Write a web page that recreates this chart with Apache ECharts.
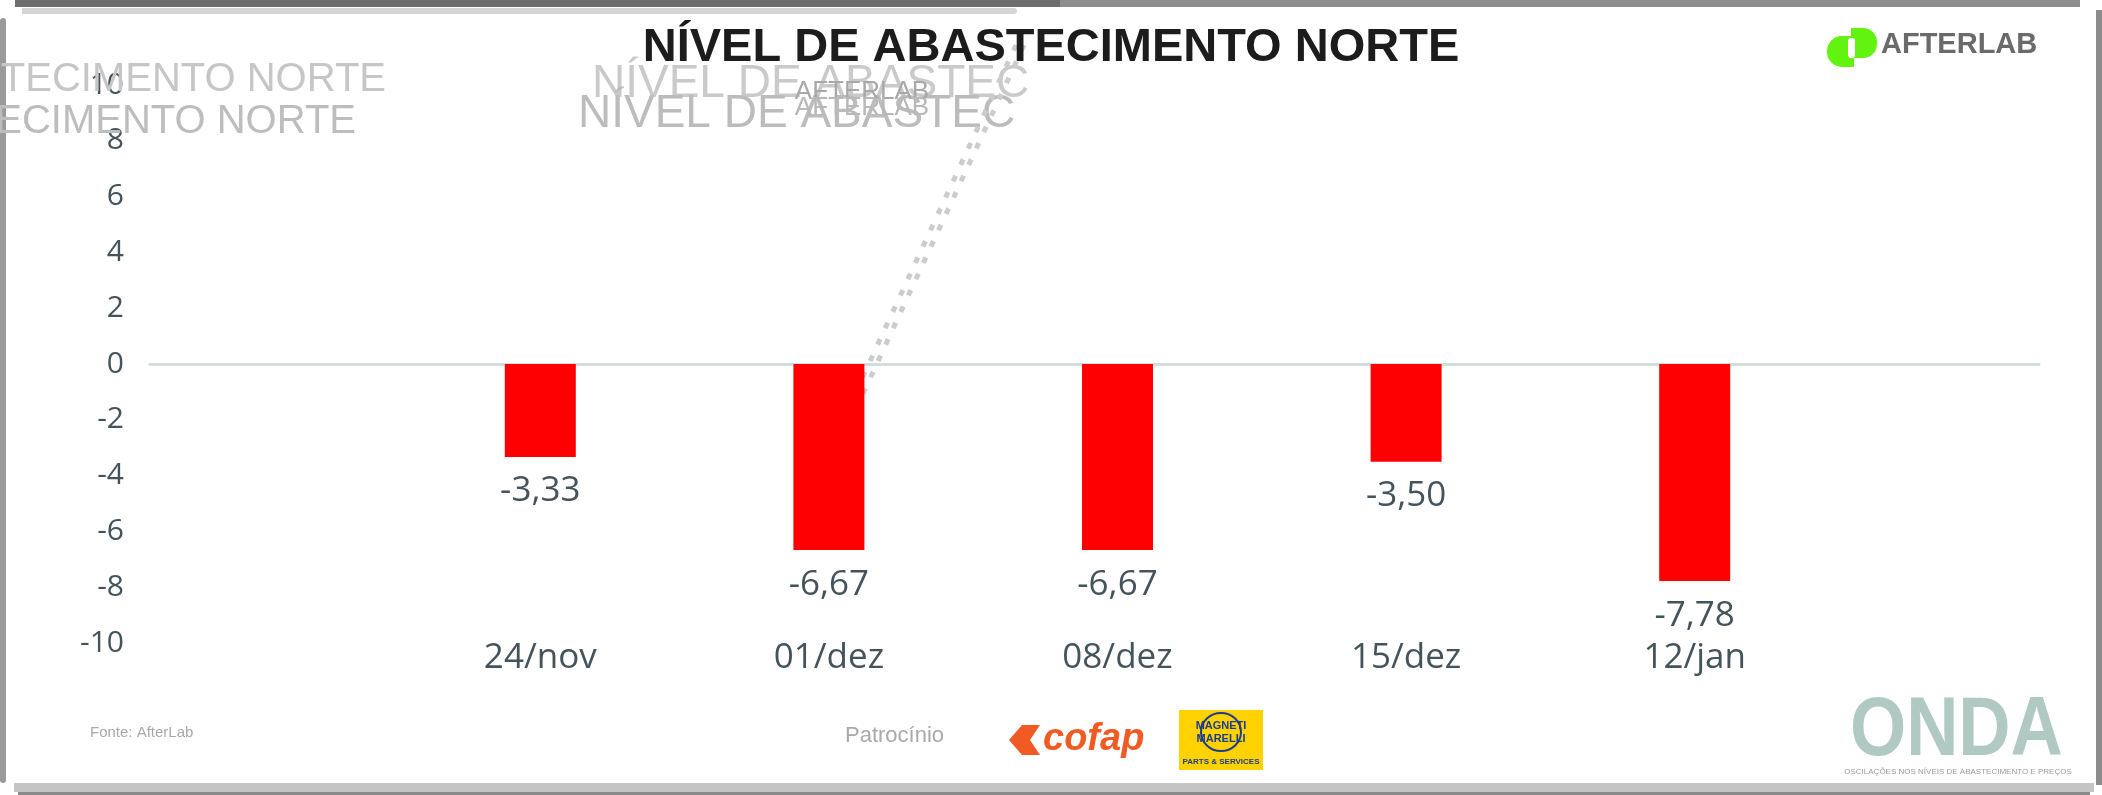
<!DOCTYPE html>
<html>
<head>
<meta charset="utf-8">
<script src="https://cdn.jsdelivr.net/npm/echarts@6/dist/echarts.min.js"></script>
<style>
  html, body { margin: 0; padding: 0; background: #ffffff; }
  #chart { width: 2102px; height: 795px; }
</style>
</head>
<body>
<div id="chart"></div>
<script>
// ---- data ----
const categories = ['24/nov', '01/dez', '08/dez', '15/dez', '12/jan'];
const values = [-3.33, -6.67, -6.67, -3.50, -7.78];
const yMin = -10;
const yMax = 10;
const yStep = 2;
const titleText = 'NÍVEL DE ABASTECIMENTO NORTE';

const labelColor = '#44545a';
const fontFam = '"Open Sans", "DejaVu Sans", sans-serif';

const chart = echarts.init(document.getElementById('chart'), null, { renderer: 'canvas' });

const fmt = v => v.toFixed(2).replace('.', ',');

const graphics = [
  // frame
  { type: 'rect', shape: { x: 15, y: 0, width: 1045, height: 7 }, style: { fill: '#6e6e6e' }, z: 1 },
  { type: 'rect', shape: { x: 1060, y: 0, width: 1020, height: 7 }, style: { fill: '#8e8e8e' }, z: 1 },
  { type: 'rect', shape: { x: 22, y: 8, width: 995, height: 6, r: [0, 6, 6, 0] }, style: { fill: '#d6d6d6' }, z: 1 },
  { type: 'rect', shape: { x: 0, y: 18, width: 6, height: 765, r: 3 }, style: { fill: '#9a9a9a' }, z: 1 },
  { type: 'rect', shape: { x: 2096, y: 10, width: 6, height: 775 }, style: { fill: '#8c8c8c' }, z: 1 },
  { type: 'rect', shape: { x: 14, y: 783, width: 2080, height: 9 }, style: { fill: '#c4c4c4' }, z: 1 },
  { type: 'rect', shape: { x: 18, y: 792, width: 2072, height: 3 }, style: { fill: '#8a8a8a' }, z: 1 },

  // ghost texts (artifacts of the reference)
  { type: 'text', style: { text: titleText, x: 386, y: 80, textAlign: 'right', textVerticalAlign: 'middle',
      font: '40px "Liberation Sans", Arial, sans-serif', fill: '#c6c6c6' }, z: 2 },
  { type: 'text', style: { text: titleText, x: 356, y: 122, textAlign: 'right', textVerticalAlign: 'middle',
      font: '40px "Liberation Sans", Arial, sans-serif', fill: '#bdbdbd' }, z: 2 },
  { type: 'text', style: { text: 'NÍVEL DE ABASTEC', x: 592, y: 84, textAlign: 'left', textVerticalAlign: 'middle',
      font: '46px "Liberation Sans", Arial, sans-serif', fill: '#cacaca' }, z: 2 },
  { type: 'text', style: { text: 'NÍVEL DE ABASTEC', x: 578, y: 114, textAlign: 'left', textVerticalAlign: 'middle',
      font: '46px "Liberation Sans", Arial, sans-serif', fill: '#bcbcbc' }, z: 2 },
  { type: 'text', style: { text: 'AFTERLAB', x: 862, y: 92, textAlign: 'center', textVerticalAlign: 'middle',
      font: '26px "Liberation Sans", Arial, sans-serif', fill: '#a8a8a8' }, z: 3 },
  { type: 'text', style: { text: 'AFTERLAB', x: 862, y: 108, textAlign: 'center', textVerticalAlign: 'middle',
      font: '26px "Liberation Sans", Arial, sans-serif', fill: '#b8b8b8' }, z: 3 },

  // dotted diagonal artifact
  { type: 'line', shape: { x1: 1016, y1: 45, x2: 853, y2: 398 }, style: { stroke: '#cccccc', lineWidth: 5, lineDash: [6, 12] }, z: 2 },
  { type: 'line', shape: { x1: 1024, y1: 45, x2: 861, y2: 398 }, style: { stroke: '#cccccc', lineWidth: 5, lineDash: [6, 12] }, z: 2 },

  // AFTERLAB logo top-right
  { type: 'rect', shape: { x: 1827, y: 36, width: 27, height: 31, r: [15, 0, 0, 15] }, style: { fill: '#62f410' }, z: 5 },
  { type: 'rect', shape: { x: 1851, y: 28, width: 26, height: 30, r: [0, 14, 14, 0] }, style: { fill: '#62f410' }, z: 5 },
  { type: 'rect', shape: { x: 1848, y: 38, width: 7, height: 20, r: 3 }, style: { fill: '#ffffff' }, z: 6 },
  { type: 'text', style: { text: 'AFTERLAB', x: 1881, y: 45, textAlign: 'left', textVerticalAlign: 'middle',
      font: 'bold 29px "Liberation Sans", Arial, sans-serif', fill: '#6a6a6a' }, z: 5 },

  // footer: source
  { type: 'text', style: { text: 'Fonte: AfterLab', x: 90, y: 733, textAlign: 'left', textVerticalAlign: 'middle',
      font: '15px "Liberation Sans", Arial, sans-serif', fill: '#a9a9a9' }, z: 5 },
  { type: 'text', style: { text: 'Patrocínio', x: 845, y: 736, textAlign: 'left', textVerticalAlign: 'middle',
      font: '22px "Liberation Sans", Arial, sans-serif', fill: '#a9a9a9' }, z: 5 },

  // cofap logo
  { type: 'polygon', shape: { points: [[1009, 740], [1022, 725], [1040, 725], [1030, 740], [1040, 755], [1022, 755]] },
      style: { fill: '#f15a22' }, z: 5 },
  { type: 'text', style: { text: 'cofap', x: 1043, y: 740, textAlign: 'left', textVerticalAlign: 'middle',
      font: 'italic bold 38px "Liberation Sans", Arial, sans-serif', fill: '#f15a22' }, z: 5 },

  // Magneti Marelli logo
  { type: 'rect', shape: { x: 1179, y: 710, width: 84, height: 60 }, style: { fill: '#ffd200' }, z: 5 },
  { type: 'ellipse', shape: { cx: 1221, cy: 732, rx: 20, ry: 19 }, style: { fill: 'none', stroke: '#1d3c8f', lineWidth: 2 }, z: 6 },
  { type: 'text', style: { text: 'MAGNETI', x: 1221, y: 726, textAlign: 'center', textVerticalAlign: 'middle',
      font: 'bold 11px "Liberation Sans", Arial, sans-serif', fill: '#1d3c8f' }, z: 6 },
  { type: 'text', style: { text: 'MARELLI', x: 1221, y: 739, textAlign: 'center', textVerticalAlign: 'middle',
      font: 'bold 11px "Liberation Sans", Arial, sans-serif', fill: '#1d3c8f' }, z: 6 },
  { type: 'text', style: { text: 'PARTS & SERVICES', x: 1221, y: 762, textAlign: 'center', textVerticalAlign: 'middle',
      font: 'bold 8px "Liberation Sans", Arial, sans-serif', fill: '#1d3c8f' }, z: 6 },

  // ONDA logo
  { type: 'text', x: 1850, y: 732, scaleX: 0.86, style: { text: 'ONDA', x: 0, y: 0, textAlign: 'left', textVerticalAlign: 'middle',
      font: 'bold 84px "Liberation Sans", Arial, sans-serif', fill: '#b0c9c2' }, z: 5 },
  { type: 'text', style: { text: 'OSCILAÇÕES NOS NÍVEIS DE ABASTECIMENTO E PREÇOS', x: 1958, y: 772, textAlign: 'center', textVerticalAlign: 'middle',
      font: '8px "Liberation Sans", Arial, sans-serif', fill: '#9a9a9a' }, z: 5 }
];

const option = {
  backgroundColor: '#ffffff',
  animation: false,
  title: {
    text: titleText,
    left: 'center',
    top: 20,
    z: 20,
    textStyle: { fontSize: 47, fontWeight: 'bold', color: '#1c1c1c', fontFamily: '"Liberation Sans", Arial, sans-serif' }
  },
  graphic: { elements: graphics },
  grid: [
    { left: 150, right: 63, top: 85, bottom: 152, containLabel: false },
    { left: 396, right: 263, top: 85, bottom: 152, containLabel: false }
  ],
  xAxis: [
    {
      gridIndex: 0, type: 'category', data: [''],
      axisLine: { show: true, onZero: true, lineStyle: { color: '#d2dedb', width: 3 } },
      axisTick: { show: false }, axisLabel: { show: false }, splitLine: { show: false }
    },
    {
      gridIndex: 1, type: 'category', data: categories,
      axisLine: { show: false, onZero: false }, axisTick: { show: false }, splitLine: { show: false },
      axisLabel: { color: labelColor, fontSize: 35, fontFamily: fontFam, margin: -2 }
    }
  ],
  yAxis: [
    {
      gridIndex: 0, type: 'value', min: yMin, max: yMax, interval: yStep,
      axisLine: { show: false }, axisTick: { show: false }, splitLine: { show: false },
      axisLabel: { color: labelColor, fontSize: 30, fontFamily: fontFam, margin: 26 }
    },
    {
      gridIndex: 1, type: 'value', min: yMin, max: yMax, interval: yStep, show: false,
      splitLine: { show: false }
    }
  ],
  series: [
    {
      type: 'bar', xAxisIndex: 1, yAxisIndex: 1,
      data: values, barWidth: 71,
      itemStyle: { color: '#ff0000' },
      label: {
        show: true, position: 'bottom', distance: 17,
        color: labelColor, fontSize: 35, fontFamily: fontFam,
        formatter: p => fmt(p.value)
      }
    }
  ]
};

chart.setOption(option);
</script>
</body>
</html>
